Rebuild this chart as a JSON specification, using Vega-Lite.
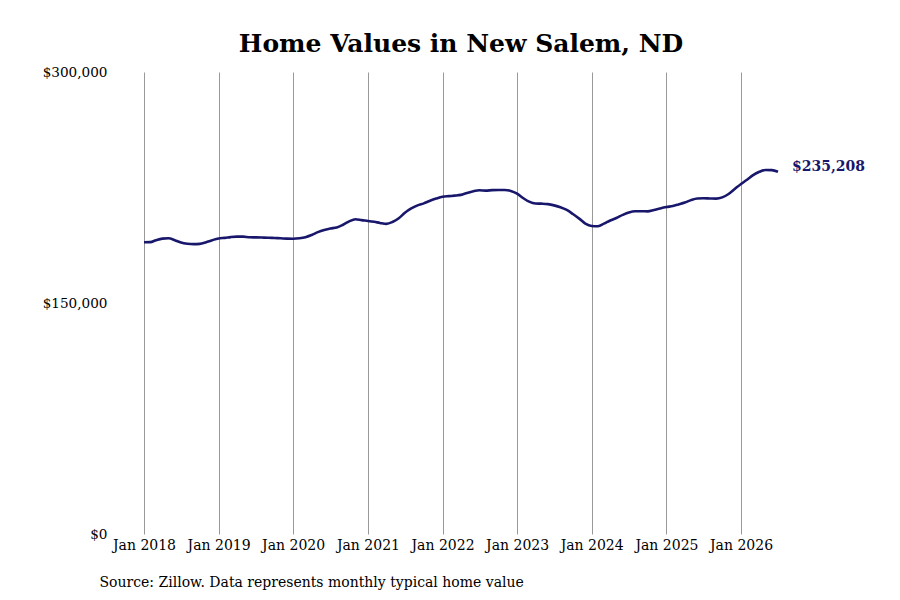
{
  "$schema": "https://vega.github.io/schema/vega-lite/v6.json",
  "width": 634,
  "height": 462,
  "autosize": "none",
  "padding": {"left": 144, "top": 72, "right": 122, "bottom": 66},
  "background": "white",
  "config": {
    "font": "DejaVu Serif",
    "view": {"stroke": null}
  },
  "title": {
    "text": "Home Values in New Salem, ND",
    "font": "DejaVu Serif",
    "fontSize": 25,
    "fontWeight": "bold",
    "color": "black",
    "anchor": "middle",
    "offset": 8
  },
  "data": {
    "values": [
      {"date": "2018-01-01", "value": 189400},
      {"date": "2018-02-01", "value": 189500},
      {"date": "2018-03-01", "value": 190800},
      {"date": "2018-04-01", "value": 191800},
      {"date": "2018-05-01", "value": 192000},
      {"date": "2018-06-01", "value": 190800},
      {"date": "2018-07-01", "value": 189300},
      {"date": "2018-08-01", "value": 188500},
      {"date": "2018-09-01", "value": 188200},
      {"date": "2018-10-01", "value": 188400},
      {"date": "2018-11-01", "value": 189500},
      {"date": "2018-12-01", "value": 190800},
      {"date": "2019-01-01", "value": 191900},
      {"date": "2019-02-01", "value": 192300},
      {"date": "2019-03-01", "value": 192800},
      {"date": "2019-04-01", "value": 193100},
      {"date": "2019-05-01", "value": 193100},
      {"date": "2019-06-01", "value": 192700},
      {"date": "2019-07-01", "value": 192600},
      {"date": "2019-08-01", "value": 192500},
      {"date": "2019-09-01", "value": 192400},
      {"date": "2019-10-01", "value": 192200},
      {"date": "2019-11-01", "value": 192000},
      {"date": "2019-12-01", "value": 191800},
      {"date": "2020-01-01", "value": 191700},
      {"date": "2020-02-01", "value": 192000},
      {"date": "2020-03-01", "value": 192700},
      {"date": "2020-04-01", "value": 194200},
      {"date": "2020-05-01", "value": 196000},
      {"date": "2020-06-01", "value": 197400},
      {"date": "2020-07-01", "value": 198400},
      {"date": "2020-08-01", "value": 199000},
      {"date": "2020-09-01", "value": 200800},
      {"date": "2020-10-01", "value": 203000},
      {"date": "2020-11-01", "value": 204400},
      {"date": "2020-12-01", "value": 203800},
      {"date": "2021-01-01", "value": 203300},
      {"date": "2021-02-01", "value": 202700},
      {"date": "2021-03-01", "value": 202000},
      {"date": "2021-04-01", "value": 201400},
      {"date": "2021-05-01", "value": 202600},
      {"date": "2021-06-01", "value": 205000},
      {"date": "2021-07-01", "value": 208600},
      {"date": "2021-08-01", "value": 211400},
      {"date": "2021-09-01", "value": 213400},
      {"date": "2021-10-01", "value": 214700},
      {"date": "2021-11-01", "value": 216400},
      {"date": "2021-12-01", "value": 217800},
      {"date": "2022-01-01", "value": 219000},
      {"date": "2022-02-01", "value": 219400},
      {"date": "2022-03-01", "value": 219700},
      {"date": "2022-04-01", "value": 220200},
      {"date": "2022-05-01", "value": 221500},
      {"date": "2022-06-01", "value": 222600},
      {"date": "2022-07-01", "value": 223200},
      {"date": "2022-08-01", "value": 223000},
      {"date": "2022-09-01", "value": 223300},
      {"date": "2022-10-01", "value": 223400},
      {"date": "2022-11-01", "value": 223400},
      {"date": "2022-12-01", "value": 222800},
      {"date": "2023-01-01", "value": 221000},
      {"date": "2023-02-01", "value": 218000},
      {"date": "2023-03-01", "value": 215800},
      {"date": "2023-04-01", "value": 214600},
      {"date": "2023-05-01", "value": 214500},
      {"date": "2023-06-01", "value": 214200},
      {"date": "2023-07-01", "value": 213400},
      {"date": "2023-08-01", "value": 212200},
      {"date": "2023-09-01", "value": 210400},
      {"date": "2023-10-01", "value": 207800},
      {"date": "2023-11-01", "value": 204800},
      {"date": "2023-12-01", "value": 201600},
      {"date": "2024-01-01", "value": 200000},
      {"date": "2024-02-01", "value": 199800},
      {"date": "2024-03-01", "value": 201500},
      {"date": "2024-04-01", "value": 203600},
      {"date": "2024-05-01", "value": 205200},
      {"date": "2024-06-01", "value": 207200},
      {"date": "2024-07-01", "value": 208800},
      {"date": "2024-08-01", "value": 209600},
      {"date": "2024-09-01", "value": 209600},
      {"date": "2024-10-01", "value": 209500},
      {"date": "2024-11-01", "value": 210400},
      {"date": "2024-12-01", "value": 211400},
      {"date": "2025-01-01", "value": 212300},
      {"date": "2025-02-01", "value": 213000},
      {"date": "2025-03-01", "value": 214000},
      {"date": "2025-04-01", "value": 215200},
      {"date": "2025-05-01", "value": 216800},
      {"date": "2025-06-01", "value": 217900},
      {"date": "2025-07-01", "value": 218000},
      {"date": "2025-08-01", "value": 217900},
      {"date": "2025-09-01", "value": 217800},
      {"date": "2025-10-01", "value": 218600},
      {"date": "2025-11-01", "value": 220800},
      {"date": "2025-12-01", "value": 224000},
      {"date": "2026-01-01", "value": 227300},
      {"date": "2026-02-01", "value": 230200},
      {"date": "2026-03-01", "value": 233000},
      {"date": "2026-04-01", "value": 235200},
      {"date": "2026-05-01", "value": 236400},
      {"date": "2026-06-01", "value": 236300},
      {"date": "2026-07-01", "value": 235208}
    ]
  },
  "encoding": {
    "x": {
      "field": "date",
      "type": "temporal",
      "scale": {"domain": [{"year": 2018, "month": 1, "date": 1}, {"year": 2026, "month": 7, "date": 1}]},
      "axis": {
        "values": [
          {"year": 2018, "month": 1, "date": 1},
          {"year": 2019, "month": 1, "date": 1},
          {"year": 2020, "month": 1, "date": 1},
          {"year": 2021, "month": 1, "date": 1},
          {"year": 2022, "month": 1, "date": 1},
          {"year": 2023, "month": 1, "date": 1},
          {"year": 2024, "month": 1, "date": 1},
          {"year": 2025, "month": 1, "date": 1},
          {"year": 2026, "month": 1, "date": 1}
        ],
        "format": "%b %Y",
        "grid": true,
        "gridColor": "#999999",
        "gridWidth": 1,
        "gridOpacity": 1,
        "domain": false,
        "ticks": false,
        "labelFont": "DejaVu Serif",
        "labelFontSize": 14,
        "labelColor": "black",
        "labelPadding": 4,
        "labelAlign": "center",
        "title": "Source: Zillow. Data represents monthly typical home value",
        "titleFont": "DejaVu Serif",
        "titleFontSize": 14,
        "titleFontWeight": "normal",
        "titleColor": "black",
        "titleAnchor": "start",
        "titleAlign": "left",
        "titleBaseline": "alphabetic",
        "titleX": -45,
        "titleY": 52
      }
    },
    "y": {
      "field": "value",
      "type": "quantitative",
      "scale": {"domain": [0, 300000], "nice": false, "zero": true},
      "axis": {
        "values": [0, 150000, 300000],
        "format": "$,.0f",
        "grid": false,
        "domain": false,
        "ticks": false,
        "labelFont": "DejaVu Serif",
        "labelFontSize": 13.6,
        "labelColor": "black",
        "labelPadding": 37,
        "title": null
      }
    }
  },
  "layer": [
    {
      "mark": {"type": "line", "color": "#18176c", "strokeWidth": 2.6, "interpolate": "monotone"}
    },
    {
      "transform": [{"filter": "datum.value == 235208"}],
      "mark": {"type": "text", "align": "left", "baseline": "middle", "dx": 14, "dy": -5, "font": "DejaVu Serif", "fontSize": 14, "fontWeight": "bold", "color": "#18176c"},
      "encoding": {"text": {"field": "value", "type": "quantitative", "format": "$,.0f"}}
    }
  ]
}
